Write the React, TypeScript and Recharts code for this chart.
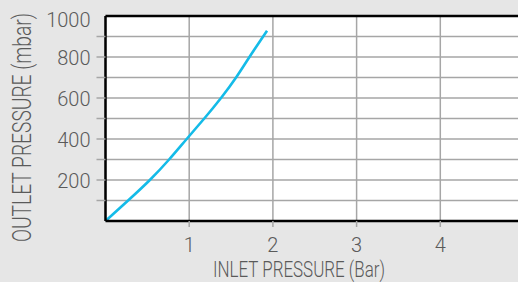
import React, { useLayoutEffect, useRef, useState } from 'react';
import { LineChart, Line, XAxis, YAxis, CartesianGrid, ReferenceLine } from 'recharts';

const inletPressure = [0, 0.27, 0.53, 0.76, 0.97, 1.18, 1.38, 1.56, 1.72, 1.93];
const outletPressure = [0, 100, 200, 300, 400, 500, 600, 700, 800, 928];
const xTicks = [1, 2, 3, 4];
const yTicks = [100, 200, 300, 400, 500, 600, 700, 800, 900, 1000];
const yLabelledTicks = [200, 400, 600, 800, 1000];
const xAxisTitle = 'INLET PRESSURE (Bar)';
const yAxisTitle = 'OUTLET PRESSURE (mbar)';

const data = inletPressure.map((x, i) => ({ x, y: outletPressure[i] }));

const FONT = 'Roboto, "Noto Sans", sans-serif';
const TEXT = '#5a5a5a';
const GRID = '#a6a6a6';
const LINE = '#14bbe8';

const YTick = (props: any) => {
  const { x, y, payload } = props;
  const v = payload.value;
  const axisX = x + 15;
  return (
    <g>
      {v < 1000 && <line x1={axisX - 9} x2={axisX} y1={y} y2={y} stroke={GRID} strokeWidth={1.5} />}
      {yLabelledTicks.includes(v) && (
        <text
          x={x}
          y={y + (v === 1000 ? 4 : 1)}
          dy="0.355em"
          textAnchor="end"
          fontFamily={FONT}
          fontWeight={300}
          fontSize={20}
          fill={TEXT}
        >
          {v}
        </text>
      )}
    </g>
  );
};

const XTick = (props: any) => {
  const { x, y, payload } = props;
  return (
    <text x={x} y={y} dy="0.71em" textAnchor="middle" fontFamily={FONT} fontWeight={300} fontSize={20} fill={TEXT}>
      {payload.value}
    </text>
  );
};

const FittedText = ({ text, cx, by, angle, fontSize, target }: any) => {
  const ref = useRef<SVGTextElement>(null);
  const [sx, setSx] = useState(0.78);
  useLayoutEffect(() => {
    if (ref.current) {
      const len = ref.current.getComputedTextLength();
      if (len > 0) setSx(target / len);
    }
  }, [text, fontSize, target]);
  return (
    <text
      ref={ref}
      x={0}
      y={0}
      transform={`translate(${cx} ${by}) rotate(${angle}) scale(${sx} 1)`}
      textAnchor="middle"
      fontFamily={FONT}
      fontWeight={300}
      fontSize={fontSize}
      fill={TEXT}
    >
      {text}
    </text>
  );
};

const XTitle = (props: any) => {
  const vb = props.viewBox || { x: 105.5, y: 221, width: 418.5, height: 61 };
  const cx = vb.x + vb.width / 2 - 15.75;
  const by = vb.y + 55.7;
  return <FittedText text={xAxisTitle} cx={cx} by={by} angle={0} fontSize={23} target={172} />;
};

const YTitle = (props: any) => {
  const vb = props.viewBox || { x: 0, y: 16, width: 105.5, height: 205 };
  const bx = vb.x + 31;
  const cy = vb.y + vb.height / 2 + 9;
  return <FittedText text={yAxisTitle} cx={bx} by={cy} angle={-90} fontSize={25} target={229} />;
};

export default function App() {
  return (
    <div
      style={{
        position: 'fixed',
        left: 0,
        top: 0,
        width: 518,
        height: 282,
        overflow: 'hidden',
        background: '#e6e6e6',
      }}
    >
      <LineChart width={524} height={282} data={data} margin={{ top: 16, right: 0, left: 0, bottom: 0 }}>
        <CartesianGrid fill="#ffffff" fillOpacity={1} stroke={GRID} strokeWidth={1.5} />
        <XAxis
          dataKey="x"
          type="number"
          domain={[0, 5]}
          ticks={xTicks}
          height={61}
          tickSize={6}
          tickMargin={11}
          tickLine={{ stroke: GRID, strokeWidth: 1.5 }}
          axisLine={{ stroke: '#000', strokeWidth: 2.5 }}
          tick={<XTick />}
          label={<XTitle />}
          interval={0}
        />
        <YAxis
          dataKey="y"
          type="number"
          domain={[0, 1000]}
          ticks={yTicks}
          width={105.5}
          tickSize={9}
          tickMargin={6}
          tickLine={false}
          axisLine={{ stroke: '#000', strokeWidth: 2.5 }}
          tick={<YTick />}
          label={<YTitle />}
          interval={0}
        />
        <ReferenceLine y={1000} stroke="#000" strokeWidth={2.5} />
        <Line
          type="natural"
          dataKey="y"
          stroke={LINE}
          strokeWidth={2.6}
          dot={false}
          isAnimationActive={false}
        />
      </LineChart>
    </div>
  );
}
